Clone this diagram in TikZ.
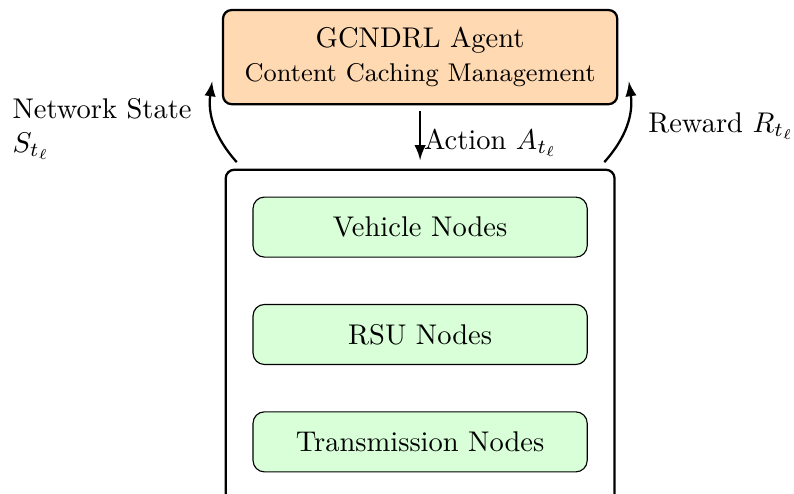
\documentclass[tikz,border=0pt]{standalone}
\usetikzlibrary{positioning,fit}

\tikzset{
	agentbox/.style={draw, thick, rounded corners=3pt, fill=orange!30, align=center, minimum width=4.86cm, minimum height=1.16cm},
	layerbox/.style={draw, rounded corners=4pt, fill=green!15, minimum width=4.12cm, minimum height=0.74cm},
	envbox/.style={draw, thick, rounded corners=3pt, inner sep=0.33cm},
}

\begin{document}
\begin{tikzpicture}
	\useasboundingbox (0,0) rectangle (9.79,6.08);
	\node[agentbox] (agent) at (5.18,5.376) {GCNDRL Agent\\ \small Content Caching Management};
	\node[layerbox] (veh) at (5.18,3.28) {Vehicle Nodes};
	\node[layerbox, below=0.57cm of veh] (rsu) {RSU Nodes};
	\node[layerbox, below=0.57cm of rsu] (trans) {Transmission Nodes};
	\coordinate (envfoot) at ([yshift=-0.12cm]trans.south);
	\node[envbox, fit=(veh)(trans)(envfoot)] (env) {};
	\draw[thick,-latex,shorten <=2pt,shorten >=3pt] (agent) -- (env) node[midway,right,inner sep=1pt,yshift=-2pt] {Action $A_{t_\ell}$};
	\draw[thick,-latex] ([xshift=0.15cm,yshift=0.08cm]env.north west) to[bend left=25] ([xshift=-0.12cm,yshift=-0.3cm]agent.west);
	\draw[thick,-latex] ([xshift=-0.14cm,yshift=0.08cm]env.north east) to[bend right=25] ([xshift=0.13cm,yshift=-0.3cm]agent.east);
	\node[anchor=west, align=left] (statelbl) at (0.03,4.49) {Network State\\ $S_{t_\ell}$};
	\node[anchor=west] (rewardlbl) at (7.87,4.525) {Reward $R_{t_\ell}$};
\end{tikzpicture}
\end{document}
